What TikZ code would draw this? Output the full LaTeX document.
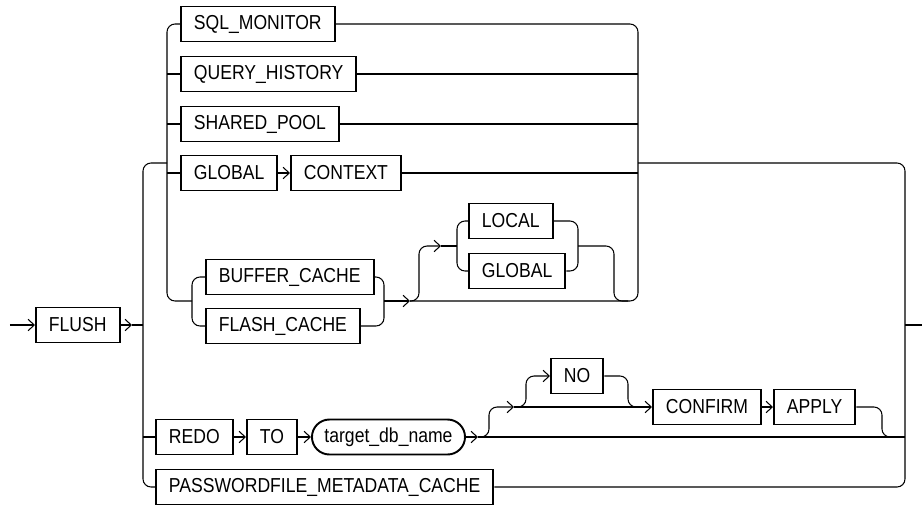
\documentclass[tikz,border=0pt]{standalone}
\usepackage{fontspec}
\setmainfont{Liberation Sans}[FakeStretch=0.87]
\usepackage{tikz}
\usetikzlibrary{arrows.meta,positioning}
\tikzstyle{new style 0}=[draw=black, shape=rectangle, line width=1.1pt,
        minimum height=0.7cm, inner xsep=0.26cm, anchor=west,
        font=\fontsize{11.5}{13}\selectfont]
\tikzstyle{new style 1}=[new style 0, rounded corners=0.35cm, inner xsep=0.25cm]
\tikzstyle{new edge style 0}=[-, draw=black, line width=0.6pt, rounded corners=0.16cm]
\tikzstyle{new edge style 1}=[new edge style 0,
        -{Straight Barb[length=3.5pt,width=6.5pt]}]
\begin{document}
\begin{tikzpicture}
            \useasboundingbox (0, 0) rectangle (18.44, -10.12);

            \node [style=new style 0] (0) at (0.7, -6.5) {FLUSH};
            \node [style=new style 0] (1) at (3.6, -0.48) {SQL\_MONITOR};
            \node [style=new style 0] (2) at (3.6, -1.48) {QUERY\_HISTORY};
            \node [style=new style 0] (3) at (3.6, -2.48) {SHARED\_POOL};
            \node [style=new style 0] (4) at (3.6, -3.46) {GLOBAL};
            \node [style=new style 0] (5) at (5.8, -3.46) {CONTEXT};
            \node [style=new style 0] (6) at (4.1, -5.54) {BUFFER\_CACHE};
            \node [style=new style 0] (7) at (4.1, -6.52) {FLASH\_CACHE};
            \node [style=new style 0] (8) at (9.36, -4.42) {LOCAL};
            \node [style=new style 0] (9) at (9.36, -5.42) {GLOBAL};
            \node [style=new style 0] (10) at (3.1, -8.74) {REDO};
            \node [style=new style 0] (11) at (4.92, -8.74) {TO};
            \node [style=new style 1] (12) at (6.22, -8.74) {target\_db\_name};
            \node [style=new style 0] (13) at (11, -7.52) {NO};
            \node [style=new style 0] (14) at (13.04, -8.14) {CONFIRM};
            \node [style=new style 0] (15) at (15.46, -8.14) {APPLY};
            \node [style=new style 0] (16) at (3.1, -9.74) {PASSWORDFILE\_METADATA\_CACHE};

            \coordinate (20) at (0.2, -6.5);
            \coordinate (21) at (2.64, -6.5);
            \coordinate (22) at (2.86, -3.26);
            \coordinate (23) at (2.86, -6.5);
            \coordinate (24) at (2.86, -8.74);
            \coordinate (25) at (2.86, -9.74);
            \coordinate (26) at (3.34, -3.26);
            \coordinate (28) at (3.34, -1.48);
            \coordinate (29) at (3.34, -2.48);
            \coordinate (30) at (3.34, -3.46);
            \coordinate (31) at (3.34, -6.02);
            \coordinate (32) at (3.84, -6.02);
            \coordinate (34) at (3.84, -6.52);
            \coordinate (36) at (7.68, -6.52);
            \coordinate (37) at (7.68, -6.02);
            \coordinate (38) at (8.2, -6.02);
            \coordinate (40) at (8.38, -4.92);
            \coordinate (41) at (8.82, -4.92);
            \coordinate (42) at (9.14, -4.92);
            \coordinate (44) at (9.14, -5.42);
            \coordinate (46) at (11.56, -5.42);
            \coordinate (47) at (11.56, -4.92);
            \coordinate (48) at (12.28, -4.92);
            \coordinate (49) at (12.56, -6.02);
            \coordinate (50) at (12.76, -6.02);
            \coordinate (52) at (12.76, -1.48);
            \coordinate (53) at (12.76, -2.48);
            \coordinate (54) at (12.76, -3.46);
            \coordinate (55) at (12.76, -3.26);
            \coordinate (57) at (18.1, -6.5);
            \coordinate (58) at (18.44, -6.5);
            \coordinate (59) at (18.1, -9.74);
            \coordinate (60) at (9.56, -8.74);
            \coordinate (62) at (9.78, -8.14);
            \coordinate (63) at (10.28, -8.14);
            \coordinate (65) at (10.52, -7.52);
            \coordinate (66) at (12.56, -7.52);
            \coordinate (67) at (12.82, -8.14);
            \coordinate (68) at (17.64, -8.14);
            \coordinate (69) at (17.92, -8.74);
            \coordinate (70) at (18.1, -8.74);

            \draw [style=new edge style 1] (20) to (0);
            \draw [style=new edge style 1] (0) to (21);
            \draw [style=new edge style 0] (21) to (23);
            \draw [style=new edge style 0] (26) -- (22) -- (25) -- (16);
            \draw [style=new edge style 0] (24) to (10);

            \draw [style=new edge style 0] (1.west) -| (31) -- (32);
            \draw [style=new edge style 0] (28) to (2);
            \draw [style=new edge style 0] (29) to (3);
            \draw [style=new edge style 0] (30) to (4);
            \draw [style=new edge style 1] (4) to (5);
            \draw [style=new edge style 0] (2) to (52);
            \draw [style=new edge style 0] (3) to (53);
            \draw [style=new edge style 0] (5) to (54);

            \draw [style=new edge style 0] (6.west) -| (34) -- (7.west);
            \draw [style=new edge style 0] (6.east) -| (36) -- (7.east);
            \draw [style=new edge style 1] (37) to (38);
            \draw [style=new edge style 0] (38) -- (50) |- (1.east);
            \draw [style=new edge style 1] (38) -| (40) -- (41);
            \draw [style=new edge style 0] (41) to (42);
            \draw [style=new edge style 0] (8.west) -| (44) -- (9.west);
            \draw [style=new edge style 0] (8.east) -| (46) -- (9.east);
            \draw [style=new edge style 0] (47) -- (48) |- (49);

            \draw [style=new edge style 0] (55) -| (59) -- (16);
            \draw [style=new edge style 0] (57) to (58);

            \draw [style=new edge style 1] (10) to (11);
            \draw [style=new edge style 1] (11) to (12);
            \draw [style=new edge style 1] (12) to (60);
            \draw [style=new edge style 0] (60) to (70);
            \draw [style=new edge style 1] (60) -| (62) -- (63);
            \draw [style=new edge style 1] (63) to (14);
            \draw [style=new edge style 1] (63) -| (65) -- (13);
            \draw [style=new edge style 0] (13) -- (66) |- (67);
            \draw [style=new edge style 1] (14) to (15);
            \draw [style=new edge style 0] (15) -- (68) |- (69);
    \end{tikzpicture}
\end{document}
